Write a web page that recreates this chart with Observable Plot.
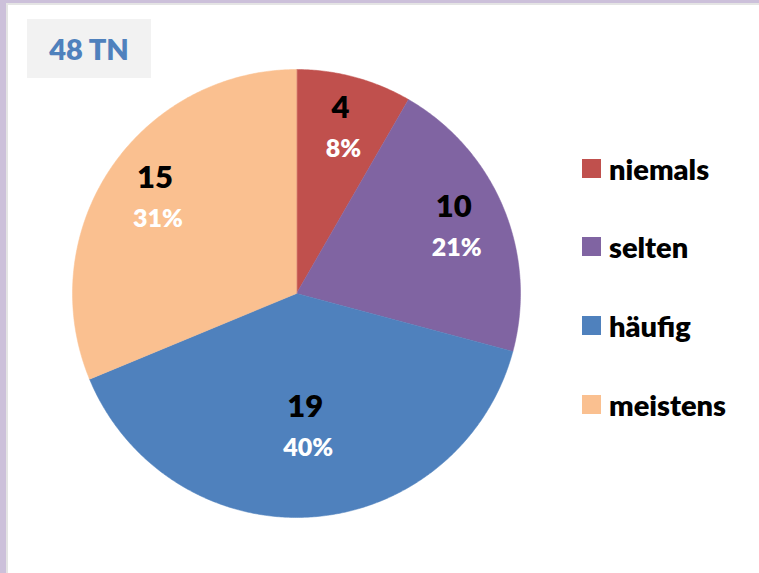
<!DOCTYPE html>
<html>
<head>
<meta charset="utf-8">
<script src="https://cdn.jsdelivr.net/npm/d3@7"></script>
<script src="https://cdn.jsdelivr.net/npm/@observablehq/plot@0.6"></script>
<style>
  html, body { margin: 0; padding: 0; background: #fff; }
  #wrap { position: relative; width: 759px; height: 573px; overflow: hidden; font-family: Lato, "Noto Sans", sans-serif; }
  #chart { position: absolute; left: 0; top: 0; }
  .bandTop { position: absolute; left: 0; top: 0; width: 759px; height: 3px; background: #ccc0da; }
  .lineTop { position: absolute; left: 6px; top: 3px; width: 753px; height: 2px; background: #e4e4e4; }
  .bandLeft { position: absolute; left: 0; top: 0; width: 6px; height: 573px; background: #ccc0da; }
  .lineLeft { position: absolute; left: 6px; top: 3px; width: 2px; height: 570px; background: #e4e4e4; }
  #title { position: absolute; left: 27px; top: 19px; width: 124px; height: 59px; background: #f2f2f2;
           color: #4f81bd; font-weight: 800; font-size: 29px; line-height: 59px; text-align: center; }
  #legend { position: absolute; left: 582px; top: 0; }
  .item { position: absolute; left: 0; display: flex; align-items: center; white-space: nowrap;
          font-weight: 800; font-size: 29px; color: #000; }
  .sw { width: 19px; height: 19px; margin-right: 8px; flex: none; }
</style>
</head>
<body>
<div id="wrap">
  <div id="chart"></div>
  <div class="bandTop"></div><div class="lineTop"></div>
  <div class="bandLeft"></div><div class="lineLeft"></div>
  <div id="title"></div>
  <div id="legend"></div>
</div>
<script>
// ---- data ----
const categories = ["niemals", "selten", "häufig", "meistens"];
const counts = [4, 10, 19, 15];
const percents = ["8%", "21%", "40%", "31%"];
const colors = ["#c0504d", "#8064a2", "#4f81bd", "#fac090"];
const titleText = "48 TN";

// ---- build pie geometry (angles clockwise from 12 o'clock) ----
const total = d3.sum(counts);
let acc = 0;
const slices = categories.map((name, i) => {
  const a0 = acc / total * 2 * Math.PI;
  acc += counts[i];
  const a1 = acc / total * 2 * Math.PI;
  return {name, count: counts[i], pct: percents[i], a0, a1, mid: (a0 + a1) / 2};
});
const points = [];
for (const s of slices) {
  points.push({name: s.name, x: 0, y: 0});
  const n = Math.max(2, Math.ceil((s.a1 - s.a0) / (Math.PI / 360)));
  for (let k = 0; k <= n; k++) {
    const a = s.a0 + (s.a1 - s.a0) * k / n;
    points.push({name: s.name, x: Math.sin(a), y: Math.cos(a)});
  }
}
// label radius (fraction of pie radius); the big slice's label sits closer to centre
const labelR = s => s.name === "häufig" ? 0.6 : 0.76;
const labels = slices.map(s => ({...s, lx: labelR(s) * Math.sin(s.mid), ly: labelR(s) * Math.cos(s.mid)}));

const chart = Plot.plot({
  width: 759,
  height: 573,
  margin: 0,
  x: {domain: [-1, 1], range: [72, 520], axis: null},
  y: {domain: [-1, 1], range: [517, 69], axis: null},
  color: {domain: categories, range: colors},
  style: {fontFamily: "Lato, 'Noto Sans', sans-serif", background: "transparent"},
  marks: [
    Plot.line(points, {x: "x", y: "y", z: "name", fill: "name", stroke: "name", strokeWidth: 0.5, curve: "linear-closed"}),
    Plot.text(labels, {x: "lx", y: "ly", text: d => String(d.count), dy: -21, fill: "#000", fontSize: 31, fontWeight: 800}),
    Plot.text(labels, {x: "lx", y: "ly", text: "pct", dx: 3, dy: 20, fill: "#fff", fontSize: 25, fontWeight: 800})
  ]
});
document.getElementById("chart").appendChild(chart);

document.getElementById("title").textContent = titleText;
const legend = document.getElementById("legend");
const rowY = [168, 246, 325, 404];
categories.forEach((c, i) => {
  const item = document.createElement("div");
  item.className = "item";
  item.style.top = (rowY[i] - 20) + "px";
  item.style.height = "40px";
  const sw = document.createElement("div");
  sw.className = "sw";
  sw.style.background = colors[i];
  const t = document.createElement("span");
  t.textContent = c;
  item.appendChild(sw); item.appendChild(t);
  legend.appendChild(item);
});
</script>
</body>
</html>
